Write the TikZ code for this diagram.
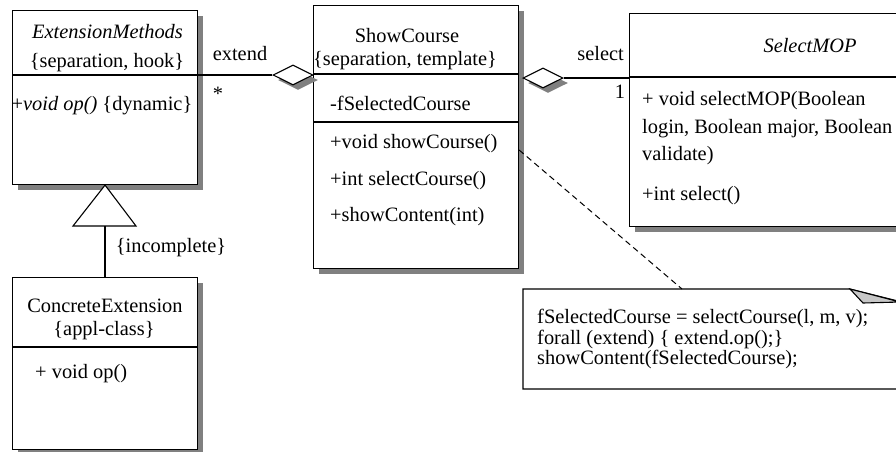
\documentclass[tikz,border=0pt]{standalone}
\usepackage{fontspec}
\setmainfont{Liberation Serif}
\usetikzlibrary{shapes.geometric,shadows}
\tikzset{
  ln/.style={line width=1.1pt},
  shad/.style={drop shadow={shadow xshift=5pt,shadow yshift=-5pt,fill=black!50,opacity=1}},
  umlbox/.style={ln, draw, fill=white, inner sep=0pt, anchor=north west, shad},
  txt/.style={font=\fontsize{20.4}{24}\selectfont, inner sep=0pt, text height=14pt, text depth=4pt},
  ltxt/.style={txt, anchor=west},
  agg/.style={diamond, draw, ln, fill=white, inner sep=0pt, minimum width=40pt, minimum height=20pt, shad},
  sepline/.style={ln},
  notelink/.style={line width=1pt, dash pattern=on 6pt off 4pt},
}
\begin{document}
\begin{tikzpicture}[x=1pt,y=-1pt]
\useasboundingbox (0,0) rectangle (896,451);
% boxes
\node[umlbox, minimum width=185pt, minimum height=174pt] (em) at (12,10) {};
\node[umlbox, minimum width=185pt, minimum height=172pt] (ce) at (12,277) {};
\node[umlbox, minimum width=205pt, minimum height=263pt] (sc) at (313,5) {};
\node[umlbox, minimum width=290pt, minimum height=213pt] (sm) at (629,13) {};
% separators
\draw[sepline] (em.west |- 0,75) -- (em.east |- 0,75);
\draw[sepline] (ce.west |- 0,347) -- (ce.east |- 0,347);
\draw[sepline] (sc.west |- 0,74) -- (sc.east |- 0,74);
\draw[sepline] (sc.west |- 0,122) -- (sc.east |- 0,122);
\draw[sepline] (sm.west |- 0,77) -- (sm.east |- 0,77);
% ExtensionMethods texts
\node[txt] (emt1) at (107.5,33) {\textit{ExtensionMethods}};
\node[txt] (emt2) at (107,62) {\{separation, hook\}};
\node[txt] (emt3) at (102,105) {+\textit{void op()} \{dynamic\}};
% ConcreteExtension texts
\node[txt] (cet1) at (105,307) {ConcreteExtension};
\node[txt] (cet2) at (104,330) {\{appl-class\}};
\node[ltxt] (cet3) at (35,373) {+ void op()};
% ShowCourse texts
\node[txt] (sct1) at (407,37) {ShowCourse};
\node[txt] (sct2) at (405,60) {\{separation, template\}};
\node[ltxt] (sct3) at (330,105) {-fSelectedCourse};
\node[ltxt] (sct4) at (330,143) {+void showCourse()};
\node[ltxt] (sct5) at (330,180) {+int selectCourse()};
\node[ltxt] (sct6) at (330,216) {+showContent(int)};
% SelectMOP texts
\node[txt] (smt1) at (810,47) {\textit{SelectMOP}};
\node[ltxt] (smt2) at (642,100) {+ void selectMOP(Boolean};
\node[ltxt] (smt3) at (642,128) {login, Boolean major, Boolean};
\node[ltxt] (smt4) at (642,155) {validate)};
\node[ltxt] (smt5) at (642,195) {+int select()};
% aggregation diamonds
\node[agg] (d1) at (293,75) {};
\node[agg] (d2) at (543,78) {};
\draw[ln] (em.east |- d1.west) -- (d1.west);
\draw[ln] (d2.east) -- (sm.west |- d2.east);
\node[txt] (lext) at (240,55) {extend};
\node[txt, anchor=base] (lstar) at (218,100) {*};
\node[txt, anchor=east] (lsel) at (624,55) {select};
\node[txt] (lone) at (620,93) {1};
% generalization
\coordinate (triapex) at (em.south);
\coordinate (tribase) at (105,226);
\draw[ln, fill=white] (triapex) -- (136,226) -- (73,226) -- cycle;
\draw[ln] (tribase) -- (tribase |- ce.north);
\node[txt] (linc) at (171,247) {\{incomplete\}};
% note
\coordinate (notetop) at (682,289);
\draw[ln, fill=white] (523,289) -- (850,289) -- (910,304) -- (910,389) -- (523,389) -- cycle;
\draw[ln, fill=black!22] (850,289) -- (863,303) -- (900,302) -- cycle;
\node[ltxt] (nt1) at (537,318) {fSelectedCourse = selectCourse(l, m, v);};
\node[ltxt] (nt2) at (537,339) {forall (extend) \{ extend.op();\}};
\node[ltxt] (nt3) at (537,359) {showContent(fSelectedCourse);};
\coordinate (dashstart) at (sc.east |- 0,150);
\draw[notelink] (dashstart) -- (notetop);
\end{tikzpicture}
\end{document}
